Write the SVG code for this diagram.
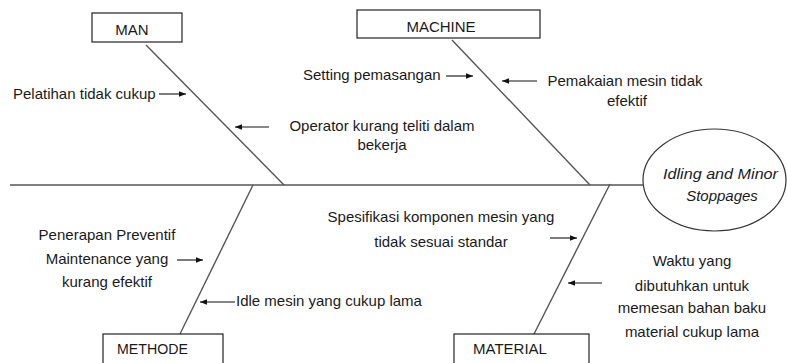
<svg xmlns="http://www.w3.org/2000/svg" width="787" height="363" viewBox="0 0 787 363">
<style>
text{font-family:"Liberation Sans",Arial,sans-serif;font-size:15px;fill:#1a1a1a}
.c{text-anchor:middle}
.box{fill:#fff;stroke:#222;stroke-width:1.2}
.bone{stroke:#555;stroke-width:1.4;fill:none}
.arr{stroke:#111;stroke-width:1.1;fill:none;marker-end:url(#ah)}
</style>
<defs>
<marker id="ah" viewBox="0 0 10 10" refX="10" refY="5" markerWidth="7" markerHeight="7" markerUnits="userSpaceOnUse" orient="auto">
<path d="M0,1 L10,5 L0,9 z" fill="#111"/>
</marker>
</defs>
<rect width="787" height="363" fill="#fff"/>
<g id="connectors">
<line class="bone" x1="10" y1="185" x2="643" y2="185" stroke-width="1.8" stroke="#6a6a6a"/>
<line class="bone" x1="146" y1="45" x2="284" y2="185"/>
<line class="bone" x1="452" y1="40" x2="590" y2="185"/>
<line class="bone" x1="180" y1="334" x2="253" y2="185"/>
<line class="bone" x1="534" y1="334" x2="610" y2="184"/>
<line class="arr" x1="159" y1="94" x2="186" y2="94"/>
<line class="arr" x1="269" y1="127" x2="235" y2="127"/>
<line class="arr" x1="446" y1="76" x2="473" y2="76"/>
<line class="arr" x1="537" y1="81" x2="502" y2="81"/>
<line class="arr" x1="177" y1="260" x2="203" y2="260"/>
<line class="arr" x1="235" y1="302" x2="200" y2="302"/>
<line class="arr" x1="550" y1="238" x2="577" y2="238"/>
<line class="arr" x1="602" y1="283" x2="568" y2="283"/>
</g>
<g id="man"><rect class="box" x="92" y="13" width="90" height="29"/><text class="c" x="132" y="35">MAN</text></g>
<g id="machine"><rect class="box" x="357" y="10" width="183" height="28"/><text class="c" x="441" y="32">MACHINE</text></g>
<g id="methode"><rect class="box" x="103" y="334" width="120" height="40"/><text x="117" y="354" textLength="71" lengthAdjust="spacingAndGlyphs">METHODE</text></g>
<g id="material"><rect class="box" x="454" y="334" width="135" height="40"/><text x="473" y="354">MATERIAL</text></g>
<g id="effect"><ellipse cx="714.5" cy="180" rx="71.5" ry="51" fill="#fff" stroke="#333" stroke-width="1.2"/>
<text x="663" y="179" font-style="italic" font-size="16" textLength="115" lengthAdjust="spacingAndGlyphs">Idling and Minor</text>
<text class="c" x="722" y="201" font-style="italic" font-size="16">Stoppages</text></g>
<g id="cause-man-1"><text x="13" y="99">Pelatihan tidak cukup</text></g>
<g id="cause-man-2"><text class="c" x="382" y="131">Operator kurang teliti dalam</text><text class="c" x="382" y="150">bekerja</text></g>
<g id="cause-machine-1"><text x="303" y="80">Setting pemasangan</text></g>
<g id="cause-machine-2"><text class="c" x="625" y="86">Pemakaian mesin tidak</text><text class="c" x="627" y="106">efektif</text></g>
<g id="cause-methode-1"><text class="c" x="107" y="240">Penerapan Preventif</text><text class="c" x="107" y="264">Maintenance yang</text><text class="c" x="107" y="287">kurang efektif</text></g>
<g id="cause-methode-2"><text x="236" y="306">Idle mesin yang cukup lama</text></g>
<g id="cause-material-1"><text class="c" x="441" y="222">Spesifikasi komponen mesin yang</text><text class="c" x="441" y="247">tidak sesuai standar</text></g>
<g id="cause-material-2"><text class="c" x="692" y="266">Waktu yang</text><text class="c" x="692" y="291">dibutuhkan untuk</text><text class="c" x="692" y="313">memesan bahan baku</text><text class="c" x="692" y="337">material cukup lama</text></g>
</svg>
